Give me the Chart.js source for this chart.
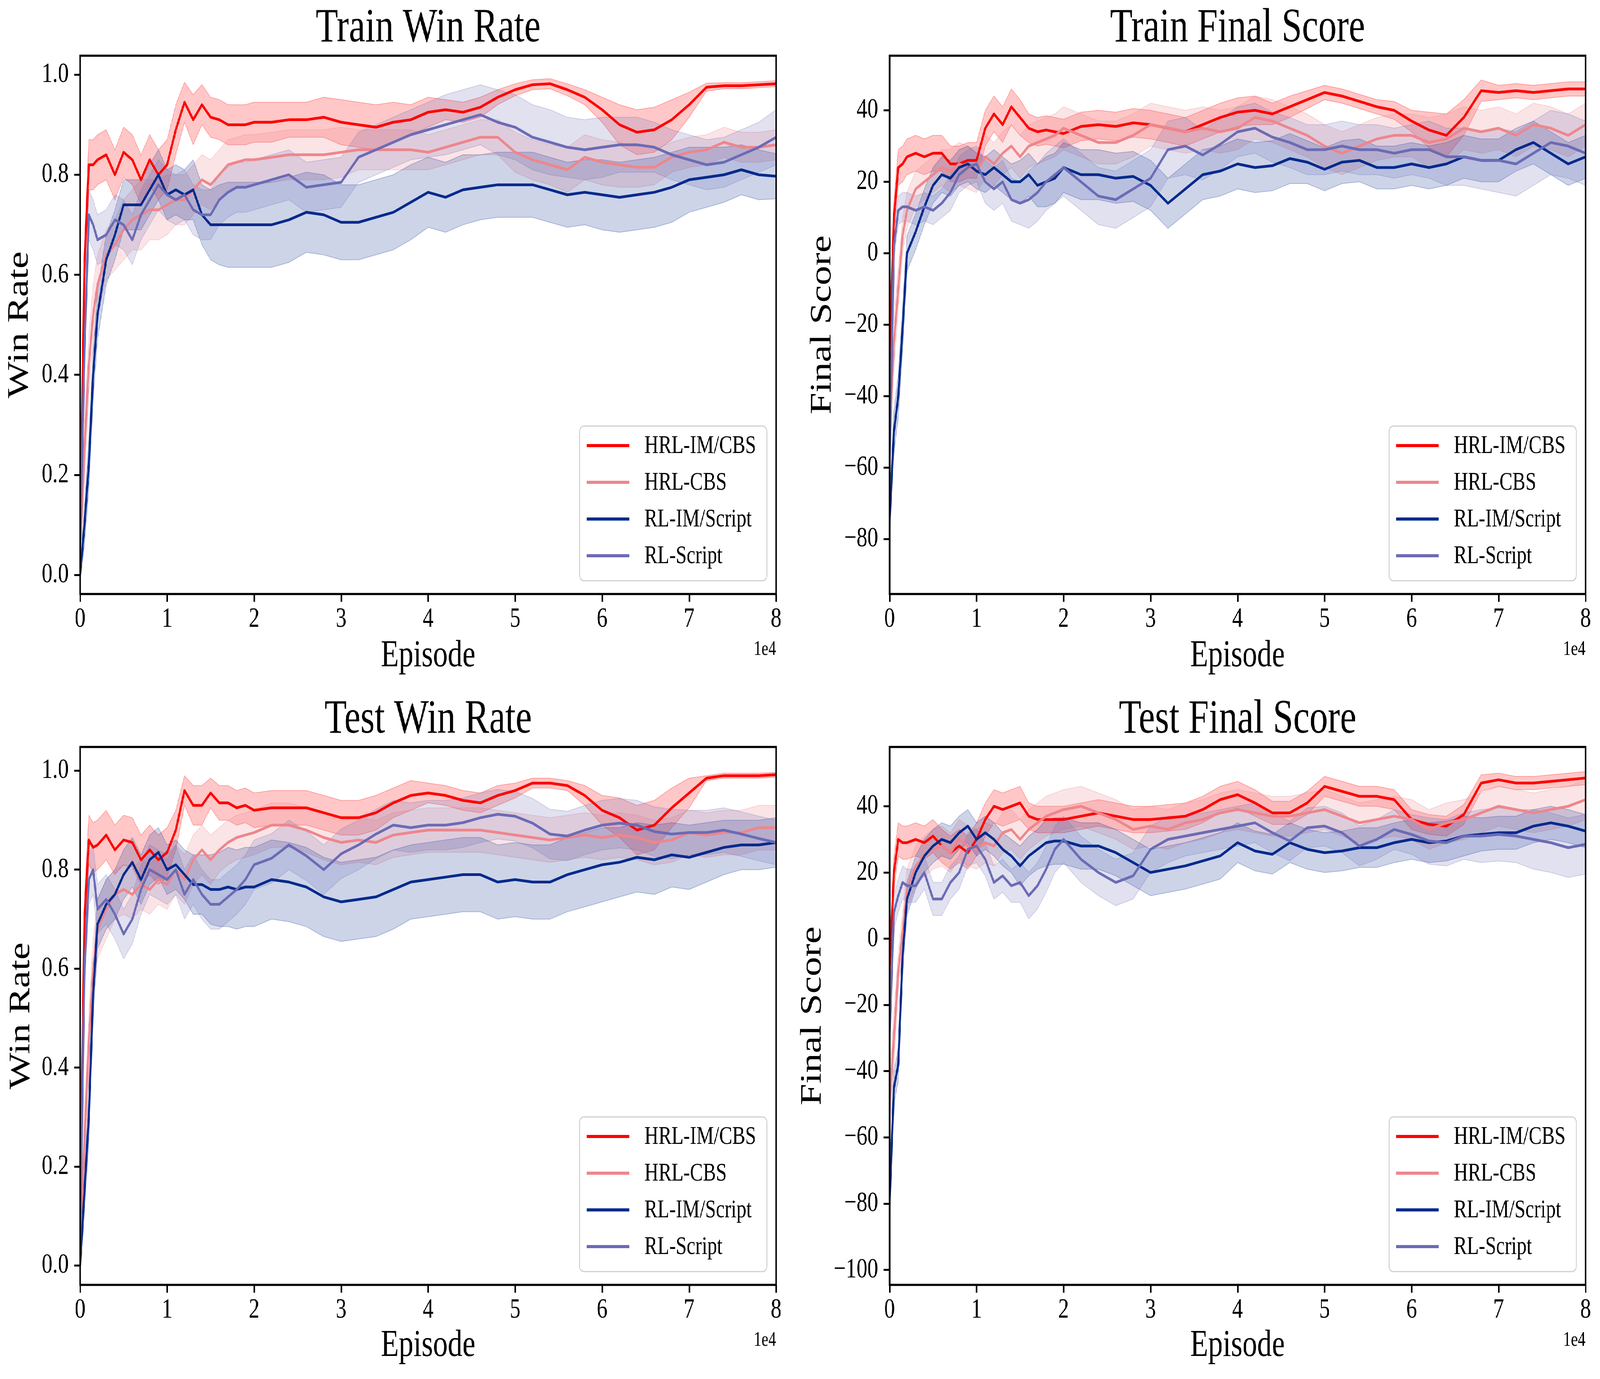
<!DOCTYPE html>
<html>
<head>
<meta charset="utf-8">
<script src="https://cdn.jsdelivr.net/npm/chart.js@4.4.0/dist/chart.umd.min.js"></script>
<style>
html,body{margin:0;padding:0;background:#ffffff;overflow:hidden;}
#stage{position:absolute;left:0;top:0;width:5333px;height:3531px;transform-origin:0 0;background:#ffffff;}
canvas{position:absolute;}
</style>
</head>
<body>
<div id="stage">
<canvas id="cvTrainWin"></canvas>
<canvas id="cvTrainScore"></canvas>
<canvas id="cvTestWin"></canvas>
<canvas id="cvTestScore"></canvas>
</div>
<script>
// ---------- shared categories / ticks ----------
const EPISODES = [0,500,1000,1500,2000,3000,4000,5000,6000,7000,8000,9000,10000,11000,12000,13000,14000,15000,16000,17000,18000,19000,20000,
  22000,24000,26000,28000,30000,32000,34000,36000,38000,40000,42000,44000,46000,48000,50000,52000,54000,56000,58000,60000,
  62000,64000,66000,68000,70000,72000,74000,76000,78000,80000];
const SERIES_NAMES = ['HRL-IM/CBS','HRL-CBS','RL-IM/Script','RL-Script'];
const X_TICKS = [0,10000,20000,30000,40000,50000,60000,70000,80000];
const X_TICK_LABELS = ['0','1','2','3','4','5','6','7','8'];
const X_OFFSET_TEXT = '1e4';
const WIN_TICKS = [0,0.2,0.4,0.6,0.8,1.0];
const WIN_TICK_LABELS = ['0.0','0.2','0.4','0.6','0.8','1.0'];
const TRAIN_SCORE_TICKS = [-80,-60,-40,-20,0,20,40];
const TRAIN_SCORE_TICK_LABELS = ['\u221280','\u221260','\u221240','\u221220','0','20','40'];
const TEST_SCORE_TICKS = [-100,-80,-60,-40,-20,0,20,40];
const TEST_SCORE_TICK_LABELS = ['\u2212100','\u221280','\u221260','\u221240','\u221220','0','20','40'];

// ---------- Train Win Rate (mean, band half-width) ----------
const trainWin_HRL_IM_CBS = [0.05,0.62,0.82,0.82,0.83,0.84,0.80,0.845,0.83,0.79,
  0.83,0.80,0.82,0.89,0.945,0.91,0.94,0.915,0.91,0.90,
  0.90,0.90,0.905,0.905,0.91,0.91,0.915,0.905,0.90,0.895,
  0.905,0.91,0.925,0.93,0.925,0.935,0.955,0.97,0.98,0.982,
  0.97,0.955,0.93,0.90,0.885,0.89,0.91,0.94,0.975,0.978,
  0.978,0.98,0.982];
const trainWin_HRL_IM_CBS_band = [0.03,0.05,0.05,0.05,0.05,0.05,0.05,0.05,0.05,0.05,
  0.05,0.05,0.05,0.05,0.04,0.05,0.04,0.04,0.04,0.04,
  0.04,0.04,0.04,0.04,0.035,0.035,0.04,0.045,0.045,0.045,
  0.04,0.03,0.03,0.02,0.02,0.02,0.015,0.012,0.01,0.01,
  0.012,0.015,0.025,0.04,0.045,0.045,0.04,0.025,0.008,0.006,
  0.006,0.006,0.006];
const trainWin_HRL_CBS = [0.05,0.25,0.42,0.52,0.58,0.64,0.66,0.69,0.71,0.72,
  0.73,0.73,0.74,0.75,0.75,0.77,0.79,0.78,0.80,0.82,
  0.825,0.83,0.83,0.835,0.84,0.84,0.84,0.845,0.85,0.85,
  0.85,0.85,0.845,0.855,0.865,0.875,0.875,0.845,0.83,0.82,
  0.81,0.835,0.825,0.82,0.815,0.815,0.835,0.845,0.85,0.865,
  0.855,0.855,0.86];
const trainWin_HRL_CBS_band = [0.03,0.06,0.06,0.06,0.06,0.05,0.05,0.06,0.06,0.07,
  0.06,0.06,0.06,0.05,0.05,0.05,0.05,0.05,0.05,0.05,
  0.05,0.05,0.05,0.05,0.05,0.05,0.05,0.05,0.04,0.04,
  0.04,0.04,0.035,0.035,0.035,0.035,0.035,0.04,0.04,0.04,
  0.045,0.045,0.045,0.045,0.04,0.035,0.03,0.03,0.03,0.03,
  0.03,0.03,0.03];
const trainWin_RL_IM_Script = [0.0,0.1,0.22,0.4,0.52,0.63,0.68,0.74,0.74,0.74,
  0.77,0.80,0.76,0.77,0.76,0.77,0.72,0.70,0.70,0.70,
  0.70,0.70,0.70,0.70,0.71,0.725,0.72,0.705,0.705,0.715,
  0.725,0.745,0.765,0.755,0.77,0.775,0.78,0.78,0.78,0.77,
  0.76,0.765,0.76,0.755,0.76,0.765,0.775,0.79,0.795,0.80,
  0.81,0.80,0.797];
const trainWin_RL_IM_Script_band = [0.01,0.04,0.05,0.05,0.05,0.05,0.05,0.05,0.05,0.05,
  0.05,0.05,0.05,0.05,0.05,0.06,0.06,0.07,0.08,0.085,
  0.085,0.085,0.085,0.085,0.085,0.08,0.08,0.075,0.075,0.075,
  0.075,0.075,0.07,0.07,0.07,0.065,0.065,0.065,0.065,0.065,
  0.065,0.065,0.07,0.07,0.07,0.07,0.07,0.065,0.06,0.055,
  0.05,0.05,0.045];
const trainWin_RL_Script = [0.05,0.45,0.72,0.70,0.67,0.68,0.71,0.70,0.67,0.72,
  0.75,0.78,0.76,0.75,0.76,0.73,0.72,0.72,0.75,0.765,
  0.775,0.775,0.78,0.79,0.80,0.775,0.78,0.785,0.835,0.85,
  0.865,0.88,0.89,0.90,0.91,0.92,0.905,0.895,0.875,0.865,
  0.855,0.85,0.855,0.86,0.86,0.855,0.84,0.83,0.82,0.825,
  0.84,0.855,0.875];
const trainWin_RL_Script_band = [0.02,0.05,0.05,0.05,0.05,0.05,0.05,0.05,0.05,0.05,
  0.05,0.05,0.05,0.05,0.05,0.05,0.05,0.05,0.05,0.05,
  0.05,0.05,0.05,0.05,0.05,0.05,0.05,0.05,0.05,0.05,
  0.05,0.05,0.055,0.06,0.06,0.06,0.065,0.065,0.065,0.065,
  0.06,0.06,0.06,0.055,0.055,0.05,0.05,0.05,0.05,0.05,
  0.05,0.05,0.055];

// ---------- Train Final Score ----------
const trainScore_HRL_IM_CBS = [-30,10,24,25,27,28,27,28,28,25,
  25,26,26,35,39,36,41,38,35,34,
  34.5,34,33.5,35.5,36,35.5,36.5,36,35,34,
  36,38,39.5,40,39,41,43,45,44,42.5,
  41,40,37,34.5,33,38,45.5,45,45.5,45,
  45.5,46,46];
const trainScore_HRL_IM_CBS_band = [8,5,5,5,5,5,5,5,5,5,
  5,5,5,5,5,5,5,5,4,4,
  4,4,4,4,4,4,4,4,4,4,
  4,4,4,4,3,3,2.5,2,2,2,
  2,2.5,3,5,6,5,3,2,2,2,
  2,2,2];
const trainScore_HRL_CBS = [-50,-25,-10,5,12,18,20,22,24,23,
  25,24,23,27,25,28,30,27,30,31,
  32,33,35,33,31,31,33,36,35,34,
  35,34,35,38,37,35,33,30,28,30,
  32,33,33,31,32,35,34,35,33,36,
  35,33,36];
const trainScore_HRL_CBS_band = [8,8,6,5,5,5,5,5,5,6,
  6,6,6,6,6,6,6,6,6,6,
  6,6,6,6,6,6,6,6,6,6,
  6,6,6,6,6,6,6,6,6,6,
  6,6,6,7,7,6,6,6,6,6,
  6,6,6];
const trainScore_RL_IM_Script = [-75,-50,-40,-21,0,6,13,19,22,21,
  24,25,23,22,24,22,20,20,22,19,
  20,21,24,22,22,21,21.5,19,14,18,
  22,23,25,24,24.5,26.5,25.5,23.5,25.5,26,
  24,24,25,24,25,27,26,26,29,31,
  28,25,27];
const trainScore_RL_IM_Script_band = [5,6,6,6,5,5,5,5,5,5,
  5,5,5,5,5,5,5,6,6,6,
  7,7,7,7,7,7,7,7,7,7,
  7,7,7,7,7,7,6,6,6,6,
  6,6,6,6,6,6,6,6,6,6,
  6,6,6];
const trainScore_RL_Script = [-60,2,12,13,13,12,13,12,14,17,
  22,24,25,20,18,20,15,14,15,17,
  20,22,24,20,16,15,18,21,29,30,
  27.5,30.5,34,35,32.5,31,29,29,30,29,
  29,28,29,29,27,27,26,26,25,28,
  31,30,28];
const trainScore_RL_Script_band = [8,4,4,4,4,4,4,4,4,5,
  5,5,5,6,6,6,6,6,8,8,
  8,8,8,8,8,8,8,8,8,8,
  7,7,7,7,7,7,7,7,7,7,
  7,7,7,8,8,8,8,9,9,9,
  9,9,9];

// ---------- Test Win Rate ----------
const testWin_HRL_IM_CBS = [0.1,0.7,0.86,0.845,0.85,0.87,0.84,0.86,0.855,0.82,
  0.84,0.82,0.835,0.88,0.96,0.93,0.93,0.955,0.935,0.935,
  0.925,0.93,0.92,0.925,0.925,0.925,0.915,0.905,0.905,0.915,
  0.935,0.95,0.955,0.95,0.94,0.935,0.95,0.96,0.975,0.975,
  0.97,0.95,0.92,0.905,0.88,0.89,0.925,0.955,0.985,0.99,
  0.99,0.99,0.992];
const testWin_HRL_IM_CBS_band = [0.03,0.05,0.05,0.05,0.05,0.05,0.05,0.05,0.05,0.05,
  0.05,0.05,0.05,0.04,0.03,0.04,0.04,0.03,0.035,0.035,
  0.035,0.035,0.035,0.035,0.035,0.035,0.035,0.035,0.035,0.035,
  0.03,0.03,0.02,0.02,0.02,0.02,0.02,0.015,0.01,0.01,
  0.01,0.02,0.03,0.04,0.05,0.05,0.04,0.03,0.005,0.005,
  0.005,0.005,0.005];
const testWin_HRL_CBS = [0.05,0.25,0.45,0.6,0.68,0.72,0.75,0.76,0.75,0.77,
  0.76,0.78,0.77,0.80,0.78,0.82,0.84,0.82,0.84,0.855,
  0.865,0.87,0.875,0.89,0.89,0.88,0.865,0.855,0.86,0.855,
  0.87,0.875,0.88,0.88,0.88,0.88,0.875,0.87,0.865,0.86,
  0.865,0.87,0.865,0.87,0.865,0.855,0.86,0.875,0.87,0.875,
  0.875,0.885,0.885];
const testWin_HRL_CBS_band = [0.03,0.06,0.06,0.06,0.06,0.06,0.05,0.05,0.05,0.05,
  0.05,0.05,0.05,0.05,0.05,0.05,0.05,0.05,0.045,0.045,
  0.045,0.045,0.045,0.045,0.045,0.045,0.045,0.045,0.045,0.045,
  0.045,0.045,0.045,0.045,0.045,0.045,0.045,0.045,0.045,0.045,
  0.045,0.045,0.045,0.045,0.045,0.045,0.045,0.045,0.045,0.045,
  0.045,0.045,0.045];
const testWin_RL_IM_Script = [0.0,0.15,0.3,0.55,0.69,0.73,0.75,0.79,0.815,0.78,
  0.82,0.835,0.80,0.81,0.79,0.77,0.77,0.76,0.76,0.765,
  0.76,0.765,0.765,0.78,0.775,0.765,0.745,0.735,0.74,0.745,
  0.76,0.775,0.78,0.785,0.79,0.79,0.775,0.78,0.775,0.775,
  0.79,0.80,0.81,0.815,0.825,0.82,0.83,0.825,0.835,0.845,
  0.85,0.85,0.855];
const testWin_RL_IM_Script_band = [0.02,0.04,0.05,0.05,0.05,0.05,0.05,0.05,0.05,0.05,
  0.05,0.05,0.05,0.05,0.05,0.06,0.06,0.07,0.075,0.08,
  0.08,0.08,0.08,0.08,0.08,0.08,0.08,0.08,0.08,0.08,
  0.08,0.075,0.075,0.075,0.075,0.075,0.075,0.075,0.075,0.075,
  0.075,0.075,0.075,0.07,0.07,0.07,0.065,0.065,0.06,0.055,
  0.05,0.05,0.05];
const testWin_RL_Script = [0.05,0.6,0.78,0.80,0.72,0.74,0.71,0.67,0.70,0.76,
  0.80,0.79,0.78,0.80,0.75,0.78,0.75,0.73,0.73,0.745,
  0.76,0.78,0.81,0.823,0.85,0.828,0.80,0.832,0.85,0.872,
  0.89,0.885,0.89,0.89,0.895,0.905,0.912,0.908,0.894,0.872,
  0.868,0.88,0.89,0.894,0.89,0.877,0.872,0.875,0.875,0.88,
  0.872,0.863,0.855];
const testWin_RL_Script_band = [0.02,0.05,0.05,0.05,0.05,0.05,0.05,0.05,0.05,0.05,
  0.05,0.05,0.05,0.05,0.05,0.05,0.05,0.05,0.05,0.05,
  0.05,0.05,0.05,0.05,0.05,0.05,0.05,0.05,0.05,0.05,
  0.05,0.05,0.05,0.05,0.05,0.05,0.05,0.05,0.05,0.05,
  0.05,0.05,0.05,0.05,0.05,0.05,0.05,0.045,0.045,0.045,
  0.045,0.045,0.045];

// ---------- Test Final Score ----------
const testScore_HRL_IM_CBS = [-10,20,30,29,29,30,29,31,28,26,
  28,26,30,36,40,39,40,41,37,36,
  36,36,36,37,38,37,36,36,36.5,37,
  39,42,43.5,41,38,38,41,46,44.5,43,
  43,42,36,34.5,34,37.5,47,48,47,47,
  47.5,48,48.5];
const testScore_HRL_IM_CBS_band = [6,5,5,5,5,5,5,5,5,5,
  5,5,5,5,5,5,5,5,4,4,
  4,4,4,4,4,4,4,4,4,4,
  4,4,4,4,3.5,3.5,3.5,3,3,3,
  3,3,3,3,3,3,2.5,2,2,2,
  2,2,2];
const testScore_HRL_CBS = [-50,-30,-10,2,15,22,25,27,28,26,
  30,28,27,29,28,32,33,30,33,35,
  37,38,39,40,38,36,33,34,33,35,
  36,38,39,38,37,37,38,39,37,35,
  36,37,36,33,35,36,38,40,39,38,
  39,40,42];
const testScore_HRL_CBS_band = [8,8,6,6,6,6,6,6,6,6,
  6,6,6,6,6,6,6,6,6,6,
  6,6,6,6,6,6,6,6,6,6,
  6,6,6,6,6,6,6,6,6,6,
  6,6,6,6,6,6,6,6,6,6,
  6,6,6];
const testScore_RL_IM_Script = [-80,-45,-38,-5,12,20,25,28,30,29,
  32,34,30,32,30,27,25,22,25,27,
  29,29.5,29.5,28,28,26,23,20,21,22,
  23.5,25,29,26.5,25.5,29,27,26,26.5,27.5,
  27.5,29,30,29,29.5,31,31.5,32,32,34,
  35,34,32.5];
const testScore_RL_IM_Script_band = [5,5,5,5,5,5,5,5,5,5,
  5,5,5,5,5,5,5,6,6,6,
  7,7,7,7,7,7,7,7,7,7,
  7,7,6,6,6,6,6,6,6,6,
  6,6,6,6,6,6,5,5,5,5,
  5,5,5];
const testScore_RL_Script = [-30,8,13,17,16,16,20,12,12,17,
  20,27,28,24,17,19,16,17,13,16,
  21,27,30,24,20,17,19,27,30,31,
  32,33,34,35,32,29.5,33.5,34,32,28,
  30,33,31.5,29.5,29,31,31,31.5,31,30,
  29,27.5,28.5];
const testScore_RL_Script_band = [6,5,5,5,5,5,5,5,5,5,
  5,5,5,5,5,5,5,6,7,7,
  7,7,7,7,7,7,7,7,7,6,
  6,6,6,6,6,6,6,6,6,6,
  6,6,6,7,7,7,8,8,8,9,
  9,9,9];

// ---------- styles ----------
const FONT = 'Liberation Serif';
const LINE_COLORS = ['#ff0000','#ee868c','#032a8c','#6b6bb5'];
const BAND_FILLS = ['rgba(255,0,0,0.22)','rgba(238,134,140,0.22)','rgba(3,42,140,0.2)','rgba(107,107,181,0.2)'];
const BAND_EDGES = ['rgba(255,0,0,0.3)','rgba(238,134,140,0.3)','rgba(3,42,140,0.28)','rgba(107,107,181,0.28)'];

const PANELS = [
  {id:'cvTrainWin', left:0, top:0, width:2640, height:1765, title:'Train Win Rate', yLabel:'Win Rate',
   yMin:-0.038, yMax:1.038, yTicks:WIN_TICKS, yTickLabels:WIN_TICK_LABELS,
   means:[trainWin_HRL_IM_CBS,trainWin_HRL_CBS,trainWin_RL_IM_Script,trainWin_RL_Script],
   bands:[trainWin_HRL_IM_CBS_band,trainWin_HRL_CBS_band,trainWin_RL_IM_Script_band,trainWin_RL_Script_band],
   yAxisWidth:267, padRight:53, padBottom:14, titlePadTop:6, yTitlePad:6, xTitlePad:22},
  {id:'cvTrainScore', left:2640, top:0, width:2693, height:1765, title:'Train Final Score', yLabel:'Final Score',
   yMin:-95.4, yMax:55.3, yTicks:TRAIN_SCORE_TICKS, yTickLabels:TRAIN_SCORE_TICK_LABELS,
   means:[trainScore_HRL_IM_CBS,trainScore_HRL_CBS,trainScore_RL_IM_Script,trainScore_RL_Script],
   bands:[trainScore_HRL_IM_CBS_band,trainScore_HRL_CBS_band,trainScore_RL_IM_Script_band,trainScore_RL_Script_band],
   yAxisWidth:325, padRight:48, padBottom:14, titlePadTop:6, yTitlePad:42, xTitlePad:22},
  {id:'cvTestWin', left:0, top:1765, width:2640, height:1766, title:'Test Win Rate', yLabel:'Win Rate',
   yMin:-0.039, yMax:1.048, yTicks:WIN_TICKS, yTickLabels:WIN_TICK_LABELS,
   means:[testWin_HRL_IM_CBS,testWin_HRL_CBS,testWin_RL_IM_Script,testWin_RL_Script],
   bands:[testWin_HRL_IM_CBS_band,testWin_HRL_CBS_band,testWin_RL_IM_Script_band,testWin_RL_Script_band],
   yAxisWidth:267, padRight:53, padBottom:11, titlePadTop:11, yTitlePad:11, xTitlePad:25},
  {id:'cvTestScore', left:2640, top:1765, width:2693, height:1766, title:'Test Final Score', yLabel:'Final Score',
   yMin:-104.5, yMax:57.9, yTicks:TEST_SCORE_TICKS, yTickLabels:TEST_SCORE_TICK_LABELS,
   means:[testScore_HRL_IM_CBS,testScore_HRL_CBS,testScore_RL_IM_Script,testScore_RL_Script],
   bands:[testScore_HRL_IM_CBS_band,testScore_HRL_CBS_band,testScore_RL_IM_Script_band,testScore_RL_Script_band],
   yAxisWidth:325, padRight:48, padBottom:11, titlePadTop:11, yTitlePad:9, xTitlePad:25}
];

// the window may be narrower than 5333 css px: stretch the 5333x3531 stage to fill it exactly
(function fitStage(){
  const stage = document.getElementById('stage');
  const vw = window.innerWidth || document.documentElement.clientWidth || 5333;
  const vh = window.innerHeight || document.documentElement.clientHeight || 3531;
  stage.style.transform = 'scale(' + (vw / 5333) + ',' + (vh / 3531) + ')';
})();

const extrasPlugin = {
  id: 'extras',
  afterDraw(chart) {
    const ca = chart.chartArea, ctx = chart.ctx;
    ctx.save();
    ctx.strokeStyle = '#000'; ctx.lineWidth = 5.5;
    ctx.strokeRect(ca.left, ca.top, ca.right - ca.left, ca.bottom - ca.top);
    ctx.fillStyle = '#000';
    ctx.font = '52px "' + FONT + '"';
    ctx.textAlign = 'right'; ctx.textBaseline = 'alphabetic';
    ctx.fillText(X_OFFSET_TEXT, ca.right, ca.bottom + 156);
    const w = 624, h = 396;
    const lx = ca.right - 31 - w, ly = ca.bottom - 34 - h;
    ctx.beginPath();
    if (ctx.roundRect) ctx.roundRect(lx, ly, w, h, 14); else ctx.rect(lx, ly, w, h);
    ctx.fillStyle = 'rgba(255,255,255,0.8)'; ctx.fill();
    ctx.strokeStyle = '#d0d0d0'; ctx.lineWidth = 3; ctx.stroke();
    ctx.font = '65px "' + FONT + '"';
    ctx.textAlign = 'left'; ctx.textBaseline = 'middle';
    for (let i = 0; i < SERIES_NAMES.length; i++) {
      const y = ly + 50 + 94 * i;
      ctx.beginPath();
      ctx.moveTo(lx + 24, y); ctx.lineTo(lx + 165, y);
      ctx.strokeStyle = LINE_COLORS[i]; ctx.lineWidth = 8; ctx.lineCap = 'butt';
      ctx.stroke();
      ctx.fillStyle = '#000';
      ctx.fillText(SERIES_NAMES[i], lx + 216, y + 2);
    }
    ctx.restore();
  }
};

function buildPanel(p) {
  const cv = document.getElementById(p.id);
  cv.width = p.width; cv.height = p.height;
  cv.style.left = p.left + 'px'; cv.style.top = p.top + 'px';
  cv.style.width = p.width + 'px'; cv.style.height = p.height + 'px';
  const datasets = [];
  for (let i = 0; i < 4; i++) {
    const m = p.means[i], b = p.bands[i];
    datasets.push({label: '_lo' + i, data: EPISODES.map((x, k) => ({x: x, y: m[k] - b[k]})),
      borderColor: BAND_EDGES[i], borderWidth: 2, pointRadius: 0, fill: false, order: 100 - i, tension: 0});
    datasets.push({label: '_hi' + i, data: EPISODES.map((x, k) => ({x: x, y: m[k] + b[k]})),
      borderColor: BAND_EDGES[i], borderWidth: 2, pointRadius: 0, fill: '-1', backgroundColor: BAND_FILLS[i],
      order: 100 - i, tension: 0});
  }
  for (let i = 0; i < 4; i++) {
    const m = p.means[i];
    datasets.push({label: SERIES_NAMES[i], data: EPISODES.map((x, k) => ({x: x, y: m[k]})),
      borderColor: LINE_COLORS[i], borderWidth: 7, pointRadius: 0, fill: false, order: 10 - i, tension: 0,
      borderJoinStyle: 'round', borderCapStyle: 'round'});
  }
  new Chart(cv, {
    type: 'line',
    data: {datasets: datasets},
    plugins: [extrasPlugin],
    options: {
      responsive: false, animation: false, devicePixelRatio: 1,
      layout: {padding: {left: 0, right: p.padRight, top: 0, bottom: p.padBottom}},
      plugins: {
        legend: {display: false},
        tooltip: {enabled: false},
        title: {display: true, text: p.title, color: '#000', fullSize: false,
          font: {family: FONT, size: 122, weight: 'normal', lineHeight: 1.12},
          padding: {top: p.titlePadTop, bottom: 0}}
      },
      scales: {
        x: {
          type: 'linear', min: 0, max: 80000,
          afterBuildTicks: (s) => { s.ticks = X_TICKS.map(v => ({value: v})); },
          afterFit: (s) => { s.height = 230; },
          ticks: {callback: (v, i) => X_TICK_LABELS[i], color: '#000', padding: 2, maxRotation: 0, autoSkip: false,
            font: {family: FONT, size: 72}},
          grid: {display: true, drawOnChartArea: false, drawTicks: true, tickLength: 20, tickWidth: 5, tickColor: '#000', color: '#000'},
          border: {display: false},
          title: {display: true, text: 'Episode', color: '#000', font: {family: FONT, size: 98, lineHeight: 1},
            padding: {top: 0, bottom: p.xTitlePad}}
        },
        y: {
          type: 'linear', min: p.yMin, max: p.yMax,
          afterBuildTicks: (s) => { s.ticks = p.yTicks.map(v => ({value: v})); },
          afterFit: (s) => { s.width = p.yAxisWidth; },
          ticks: {callback: (v, i) => p.yTickLabels[i], color: '#000', padding: 18, autoSkip: false,
            font: {family: FONT, size: 72}},
          grid: {display: true, drawOnChartArea: false, drawTicks: true, tickLength: 20, tickWidth: 5, tickColor: '#000', color: '#000'},
          border: {display: false},
          title: {display: true, text: p.yLabel, color: '#000', font: {family: FONT, size: 100, lineHeight: 1.2},
            padding: {top: p.yTitlePad, bottom: 0}}
        }
      }
    }
  });
}

PANELS.forEach(buildPanel);
</script>
</body>
</html>
